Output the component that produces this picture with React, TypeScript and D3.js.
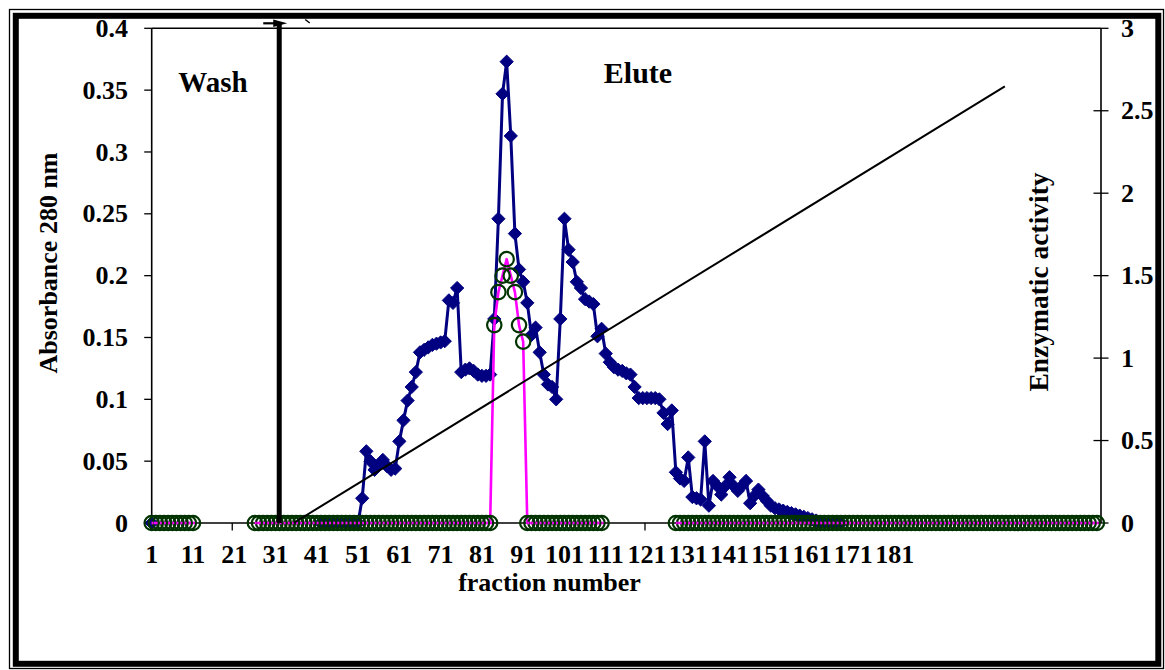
import React from "react";
import * as d3 from "d3";

// ---------- data ----------
const fractions: number[] = d3.range(1, 232); // categories 1..231

const xTickLabels: number[] = [1, 11, 21, 31, 41, 51, 61, 71, 81, 91, 101, 111, 121, 131, 141, 151, 161, 171, 181];
const xTickMarks: number[] = [21, 121, 221];
const leftTicks: number[] = [0, 0.05, 0.1, 0.15, 0.2, 0.25, 0.3, 0.35, 0.4];
const rightTicks: number[] = [0, 0.5, 1, 1.5, 2, 2.5, 3];

// Absorbance 280 nm (left axis), fraction 1..231
const absorbance: (number | null)[] = [
  0, null, null, null, null, null, null, null, null, null,
  null, null, null, null, null, null, null, null, null, null,
  null, null, null, null, null, null, null, null, null, null,
  null, null, null, null, null, null, null, null, null, null,
  null, 0, 0, 0, 0, 0, 0, 0, 0, 0,
  0, 0.020, 0.058, 0.050, 0.043, 0.047, 0.051, 0.046, 0.043, 0.044,
  0.066, 0.083, 0.099, 0.110, 0.122, 0.138, 0.140, 0.142, 0.144, 0.145,
  0.146, 0.147, 0.180, 0.178, 0.190, 0.122, 0.124, 0.125, 0.123, 0.120,
  0.119, 0.119, 0.120, 0.165, 0.246, 0.347, 0.373, 0.313, 0.234, 0.205,
  0.195, 0.178, 0.152, 0.158, 0.138, 0.120, 0.112, 0.110, 0.100, 0.165,
  0.246, 0.221, 0.211, 0.195, 0.190, 0.181, 0.179, 0.177, 0.151, 0.157,
  0.137, 0.130, 0.126, 0.124, 0.123, 0.121, 0.120, 0.110, 0.101, 0.101,
  0.101, 0.101, 0.101, 0.100, 0.089, 0.080, 0.091, 0.041, 0.036, 0.034,
  0.053, 0.021, 0.020, 0.019, 0.066, 0.014, 0.034, 0.030, 0.023, 0.030,
  0.037, 0.030, 0.026, 0.030, 0.034, 0.016, 0.022, 0.027, 0.022, 0.018,
  0.014, 0.012, 0.011, 0.010, 0.009, 0.008, 0.007, 0.006, 0.005, 0.004,
  0.003, 0.002, 0.001, 0, 0, 0, 0, 0, null, null,
  null, null, null, null, null, null, null, null, null, null,
  null, null, null, null, null, null, null, null, null, null,
  null, null, null, null, null, null, null, null, null, null,
  null, null, null, null, null, null, null, null, null, null,
  null, null, null, null, null, null, null, null, null, null,
  null, null, null, null, null, null, null, null, null, null,
  null,
];

// Enzymatic activity (right axis), fraction 1..231
const activity: (number | null)[] = [
  0, 0, 0, 0, 0, 0, 0, 0, 0, 0,
  0, null, null, null, null, null, null, null, null, null,
  null, null, null, null, null, 0, 0, 0, 0, 0,
  0, 0, 0, 0, 0, 0, 0, 0, 0, 0,
  0, 0, 0, 0, 0, 0, 0, 0, 0, 0,
  0, 0, 0, 0, 0, 0, 0, 0, 0, 0,
  0, 0, 0, 0, 0, 0, 0, 0, 0, 0,
  0, 0, 0, 0, 0, 0, 0, 0, 0, 0,
  0, 0, 0, 1.2, 1.4, 1.5, 1.6, 1.5, 1.4, 1.2,
  1.1, 0, 0, 0, 0, 0, 0, 0, 0, 0,
  0, 0, 0, 0, 0, 0, 0, 0, 0, 0,
  null, null, null, null, null, null, null, null, null, null,
  null, null, null, null, null, null, null, 0, 0, 0,
  0, 0, 0, 0, 0, 0, 0, 0, 0, 0,
  0, 0, 0, 0, 0, 0, 0, 0, 0, 0,
  0, 0, 0, 0, 0, 0, 0, 0, 0, 0,
  0, 0, 0, 0, 0, 0, 0, 0, 0, 0,
  0, 0, 0, 0, 0, 0, 0, 0, 0, 0,
  0, 0, 0, 0, 0, 0, 0, 0, 0, 0,
  0, 0, 0, 0, 0, 0, 0, 0, 0, 0,
  0, 0, 0, 0, 0, 0, 0, 0, 0, 0,
  0, 0, 0, 0, 0, 0, 0, 0, 0, 0,
  0, 0, 0, 0, 0, 0, 0, 0, 0, 0,
  null,
];

// gradient line (drawn on the absorbance scale) and wash/elute boundary
const gradientFractions: number[] = [35.4, 207.7];
const gradientValues: number[] = [0, 0.353];
const washBoundary = 31.9;

// ---------- layout ----------
const W = 1165;
const H = 670;
const FONT = "'Liberation Serif', 'Times New Roman', serif";
const NAVY = "#000080";
const GREEN = "#003300";
const MAGENTA = "#FF00FF";

export default function App() {
  const x = d3.scaleLinear().domain([1, 231]).range([151.7, 1101]);
  const yL = d3.scaleLinear().domain([0, 0.4]).range([523, 28.3]);
  const yR = d3.scaleLinear().domain([0, 3]).range([523, 28.3]);

  const absPts = fractions.map((f, i) => ({ f, v: absorbance[i] }));
  const actPts = fractions.map((f, i) => ({ f, v: activity[i] }));

  const absLine = d3
    .line<{ f: number; v: number | null }>()
    .defined((d) => d.v != null)
    .x((d) => x(d.f))
    .y((d) => yL(d.v as number));
  const actLine = d3
    .line<{ f: number; v: number | null }>()
    .defined((d) => d.v != null)
    .x((d) => x(d.f))
    .y((d) => yR(d.v as number));

  const diamond = d3.symbol().type(d3.symbolDiamond2).size(112)();

  const x0 = x(1);
  const x1 = x(231);
  const yTop = yL(0.4);
  const yBot = yL(0);
  const washX = x(washBoundary);

  return (
    <svg
      width={W}
      height={H}
      style={{ position: "absolute", left: 0, top: 0, background: "#fff" }}
      fontFamily={FONT}
    >
      <rect x={0} y={0} width={W} height={H} fill="#fff" />
      {/* outer double border */}
      <rect x={9.5} y={9.5} width={1154} height={659} fill="none" stroke="#000" strokeWidth={1.3} />
      <rect x={15.8} y={15.8} width={1142.5} height={648} fill="none" stroke="#000" strokeWidth={6} />

      {/* plot frame */}
      <line x1={x0} x2={x1} y1={yTop} y2={yTop} stroke="#000" strokeWidth={1.6} />
      <line x1={x0} x2={x0} y1={yTop} y2={yBot} stroke="#000" strokeWidth={1.6} />
      <line x1={x1} x2={x1} y1={yTop} y2={yBot} stroke="#000" strokeWidth={1.6} />
      <line x1={x0} x2={x1} y1={yBot} y2={yBot} stroke="#000" strokeWidth={1.6} />

      {/* left axis ticks + labels */}
      {leftTicks.map((t) => (
        <g key={"l" + t}>
          <line x1={x0 - 7.5} x2={x0} y1={yL(t)} y2={yL(t)} stroke="#000" strokeWidth={1.3} />
          <text x={128} y={yL(t) + 8.6} textAnchor="end" fontSize={26} fontWeight="bold">
            {String(t)}
          </text>
        </g>
      ))}
      {/* right axis ticks + labels */}
      {rightTicks.map((t) => (
        <g key={"r" + t}>
          <line x1={t === 3 ? x1 : x1 - 7.5} x2={x1 + 7.5} y1={yR(t)} y2={yR(t)} stroke="#000" strokeWidth={1.3} />
          <text x={1121} y={yR(t) + 8.6} textAnchor="start" fontSize={26} fontWeight="bold">
            {String(t)}
          </text>
        </g>
      ))}
      {/* x ticks */}
      {xTickMarks.map((t) => (
        <line key={"xt" + t} x1={x(t) - 2} x2={x(t) - 2} y1={yBot} y2={yBot + 7.5} stroke="#000" strokeWidth={1.3} />
      ))}
      {xTickLabels.map((t) => (
        <text key={"xl" + t} x={x(t)} y={563} textAnchor="middle" fontSize={26} fontWeight="bold">
          {String(t)}
        </text>
      ))}

      {/* axis titles */}
      <text x={549.5} y={591} textAnchor="middle" fontSize={26} fontWeight="bold">
        fraction number
      </text>
      <text transform="translate(57,263) rotate(-90)" textAnchor="middle" fontSize={26} fontWeight="bold">
        Absorbance 280 nm
      </text>
      <text transform="translate(1048,282) rotate(-90)" textAnchor="middle" fontSize={27.5} fontWeight="bold">
        Enzymatic activity
      </text>

      {/* absorbance series */}
      <path d={absLine(absPts) || ""} fill="none" stroke={NAVY} strokeWidth={3} strokeLinejoin="round" />
      {absPts
        .filter((d) => d.v != null)
        .map((d) => (
          <path
            key={"a" + d.f}
            d={diamond || ""}
            transform={`translate(${x(d.f)},${yL(d.v as number)})`}
            fill={NAVY}
            stroke={NAVY}
            strokeWidth={1}
          />
        ))}

      {/* activity series */}
      <path d={actLine(actPts) || ""} fill="none" stroke={MAGENTA} strokeWidth={2.6} strokeLinejoin="round" />
      {actPts
        .filter((d) => d.v != null)
        .map((d) => (
          <circle key={"c" + d.f} cx={x(d.f)} cy={yR(d.v as number)} r={7.2} fill="none" stroke={GREEN} strokeWidth={2.2} />
        ))}
      {actPts
        .filter((d) => d.v === 0)
        .map((d) => (
          <line
            key={"m" + d.f}
            x1={x(d.f)}
            x2={x(d.f) + 1.8}
            y1={yR(0)}
            y2={yR(0)}
            stroke={MAGENTA}
            strokeWidth={2.6}
          />
        ))}

      {/* gradient line */}
      <line
        x1={x(gradientFractions[0])}
        y1={yL(gradientValues[0])}
        x2={x(gradientFractions[1])}
        y2={yL(gradientValues[1])}
        stroke="#000"
        strokeWidth={2}
      />

      {/* wash / elute boundary with arrow */}
      <line x1={washX} x2={washX} y1={23} y2={yBot} stroke="#000" strokeWidth={5} />
      <line x1={washX - 16} x2={washX - 2} y1={23.3} y2={23.3} stroke="#000" strokeWidth={2.2} />
      <path d={`M${washX - 6},19.6 L${washX + 8},23.3 L${washX - 6},27 Z`} fill="#000" />
      <line x1={washX + 26} y1={19.5} x2={washX + 30.5} y2={23} stroke="#000" strokeWidth={1.5} />

      <text x={213} y={92} textAnchor="middle" fontSize={29} fontWeight="bold">
        Wash
      </text>
      <text x={638} y={83} textAnchor="middle" fontSize={30} fontWeight="bold">
        Elute
      </text>
    </svg>
  );
}
